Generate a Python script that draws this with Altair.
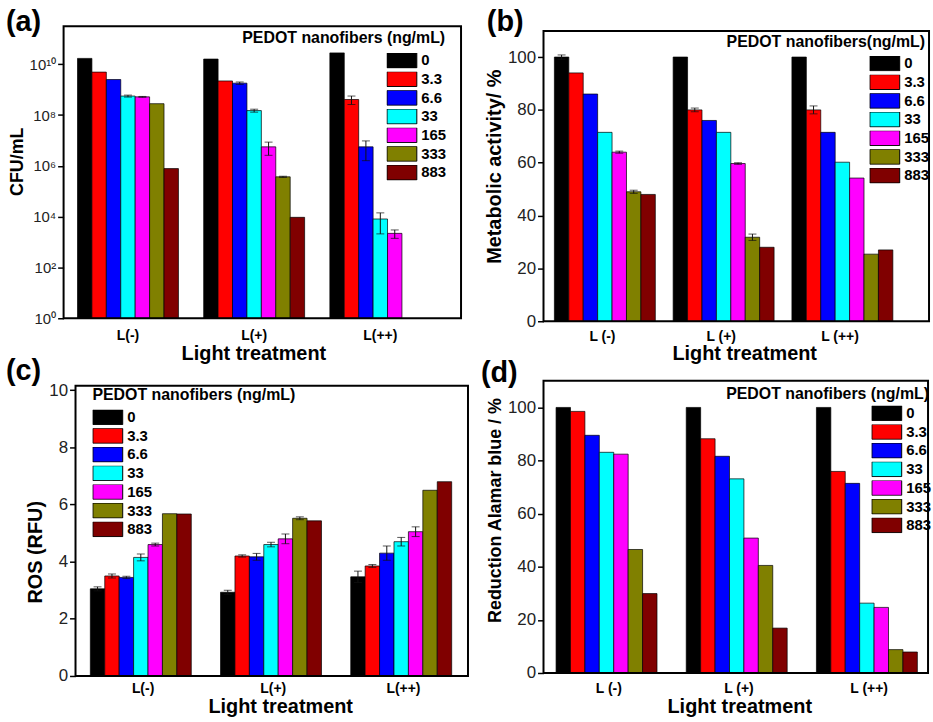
import altair as alt
import pandas as pd

FONT = "Liberation Sans"

CONC = ["0", "3.3", "6.6", "33", "165", "333", "883"]
COLORS = ["#000000", "#FF0000", "#0000FF", "#00FFFF", "#FF00FF", "#808000", "#800000"]

GROUPS_A = ["L(-)", "L(+)", "L(++)"]
GROUPS_B = ["L (-)", "L (+)", "L (++)"]

# (a) CFU/mL
cfu_lminus = [1.7e10, 4.9e9, 2.5e9, 5.6e8, 5.2e8, 2.8e8, 7.8e5]
cfu_lplus = [1.6e10, 2.2e9, 1.8e9, 1.5e8, 5.6e6, 3.7e5, 9.4e3]
cfu_lplusplus = [2.8e10, 4.1e8, 5.6e6, 8.1e3, 2.2e3, None, None]
cfu_err_lminus = [0, 0, 0, 5e7, 2e7, 0, 0]
cfu_err_lplus = [0, 0, 2e8, 2e7, 3e6, 2e4, 0]
cfu_err_lplusplus = [0, 1.5e8, 4e6, 6e3, 8e2, 0, 0]
cfu_ticks = [1, 1e2, 1e4, 1e6, 1e8, 1e10]
cfu_tick_labels = ["10⁰", "10²", "10⁴", "10⁶", "10⁸", "10¹⁰"]

# (b) Metabolic activity / %
met_lminus = [100, 94, 86, 71.5, 64, 49, 48]
met_lplus = [100, 80, 76, 71.5, 59.7, 31.8, 28]
met_lplusplus = [100, 80, 71.5, 60.2, 54.2, 25.4, 27]
met_err_lminus = [0.8, 0, 0, 0, 0.4, 0.6, 0]
met_err_lplus = [0, 0.7, 0, 0, 0.3, 1.2, 0]
met_err_lplusplus = [0, 1.5, 0, 0, 0, 0, 0]

# (c) ROS (RFU)
ros_lminus = [3.05, 3.5, 3.45, 4.15, 4.6, 5.68, 5.67]
ros_lplus = [2.93, 4.2, 4.17, 4.6, 4.8, 5.52, 5.43]
ros_lplusplus = [3.47, 3.85, 4.3, 4.7, 5.05, 6.5, 6.8]
ros_err_lminus = [0.07, 0.07, 0.04, 0.12, 0.05, 0, 0]
ros_err_lplus = [0.07, 0.04, 0.12, 0.08, 0.17, 0.05, 0]
ros_err_lplusplus = [0.2, 0.05, 0.25, 0.15, 0.17, 0, 0]

# (d) Reduction Alamar blue / %
ala_lminus = [100, 98.5, 89.5, 83.1, 82.4, 46.5, 29.9]
ala_lplus = [100, 88.2, 81.6, 73.1, 50.8, 40.5, 16.9]
ala_lplusplus = [100, 75.9, 71.4, 26.3, 24.7, 8.8, 7.9]
ala_err = [0, 0, 0, 0, 0, 0, 0]

LEGEND_TITLE = "PEDOT nanofibers (ng/mL)"
LEGEND_TITLE_B = "PEDOT nanofibers(ng/mL)"
X_TITLE = "Light treatment"


def make_panel(groups, series, errors, *, base, width, height, frame, yscale, yvalues,
               ytitle, ytitle_size, ylabel_size, ytitle_y, yaxis_offset, xtitle_x, xlabel_pad,
               xscale, label, label_pos, ltitle, ltitle_pos, ltitle_align, legend_pos,
               label_expr=None):
    rows = []
    for g, vals, errs in zip(groups, series, errors):
        for c, v, e in zip(CONC, vals, errs):
            if v is None:
                continue
            rows.append({"group": g, "conc": c, "value": v, "base": base,
                         "lo": v - e, "hi": v + e, "err": e})
    df = pd.DataFrame(rows)
    err_df = df[df["err"] > 0]

    x = alt.X("group:N", sort=groups, scale=alt.Scale(**xscale),
              axis=alt.Axis(title=X_TITLE, labelAngle=0, ticks=False, domain=False,
                            labelFont=FONT, labelFontSize=14, labelFontWeight="bold",
                            labelColor="black", labelPadding=xlabel_pad, titleFont=FONT,
                            titleFontSize=20, titleFontWeight="bold", titleColor="black",
                            titlePadding=1, titleX=xtitle_x))
    ykw = dict(values=yvalues, tickSize=6, tickWidth=1.5, tickColor="black", domain=False,
               grid=False, labelFont=FONT, labelFontSize=ylabel_size, labelColor="#222222",
               labelPadding=2, titleFont=FONT, titleFontSize=ytitle_size, titleFontWeight="bold",
               titleColor="black", titlePadding=3, titleY=ytitle_y, offset=yaxis_offset)
    if label_expr is not None:
        ykw["labelExpr"] = label_expr
    yaxis = alt.Axis(**ykw)

    xo = alt.XOffset("conc:N", sort=CONC, scale=alt.Scale(paddingInner=0, paddingOuter=0))
    color = alt.Color("conc:N", sort=CONC, title=None,
                      scale=alt.Scale(domain=CONC, range=COLORS),
                      legend=alt.Legend(orient="none", legendX=legend_pos[0], legendY=legend_pos[1],
                                        symbolType="M-1,-0.5H1V0.5H-1Z", symbolSize=900,
                                        symbolStrokeColor="black", symbolStrokeWidth=1,
                                        symbolOpacity=1, labelFont=FONT, labelFontSize=15,
                                        labelFontWeight="bold", labelColor="black",
                                        labelOffset=4, rowPadding=2.8, clipHeight=15, padding=0))

    bars = alt.Chart(df).mark_bar(stroke="black", strokeWidth=0.7, opacity=1).encode(
        x=x, xOffset=xo,
        y=alt.Y("value:Q", title=ytitle, scale=yscale, axis=yaxis),
        y2="base:Q",
        color=color,
    )
    rule = alt.Chart(err_df).mark_rule(color="#111111", strokeWidth=1).encode(
        x=x, xOffset=xo,
        y=alt.Y("lo:Q", title=ytitle, scale=yscale, axis=yaxis), y2="hi:Q",
    )
    cap_hi = alt.Chart(err_df).mark_tick(color="#111111", thickness=1, size=8, orient="horizontal").encode(
        x=x, xOffset=xo, y=alt.Y("hi:Q", title=ytitle, scale=yscale, axis=yaxis),
    )
    cap_lo = alt.Chart(err_df).mark_tick(color="#111111", thickness=1, size=8, orient="horizontal").encode(
        x=x, xOffset=xo, y=alt.Y("lo:Q", title=ytitle, scale=yscale, axis=yaxis),
    )
    box = alt.Chart(pd.DataFrame({"t": [""]})).mark_rect(
        fillOpacity=0, stroke="black", strokeWidth=2
    ).encode(x=alt.value(frame[0]), x2=alt.value(frame[2]),
             y=alt.value(frame[1]), y2=alt.value(frame[3]))
    lab = alt.Chart(pd.DataFrame({"t": [label]})).mark_text(
        font=FONT, fontSize=29, fontWeight="bold", align="left", baseline="middle", color="black"
    ).encode(text="t:N", x=alt.value(label_pos[0]), y=alt.value(label_pos[1]))
    lt = alt.Chart(pd.DataFrame({"t": [ltitle]})).mark_text(
        font=FONT, fontSize=16, fontWeight="bold", align=ltitle_align, baseline="middle", color="black"
    ).encode(text="t:N", x=alt.value(ltitle_pos[0]), y=alt.value(ltitle_pos[1]))

    return alt.layer(bars, rule, cap_hi, cap_lo, box, lab, lt).properties(width=width, height=height)


expr_a = " : ".join(f"datum.value == {float(v)} ? '{l}'" for v, l in zip(cfu_ticks, cfu_tick_labels)) + " : ''"

# panel (a): origin (63, 24)
panel_a = make_panel(
    GROUPS_A, [cfu_lminus, cfu_lplus, cfu_lplusplus],
    [cfu_err_lminus, cfu_err_lplus, cfu_err_lplusplus], base=1,
    width=400, height=294, frame=(0, 0, 400, 294),
    yscale=alt.Scale(type="log", domain=[1, 10 ** 11.5], nice=False),
    yvalues=cfu_ticks, label_expr=expr_a, ytitle="CFU/mL", ytitle_size=18, ylabel_size=15,
    ytitle_y=136, yaxis_offset=0, xtitle_x=191, xlabel_pad=10,
    xscale=dict(paddingInner=0.2, paddingOuter=0.175, align=0.315),
    label="(a)", label_pos=(-58, -4), ltitle=LEGEND_TITLE, ltitle_pos=(384, 12),
    ltitle_align="right", legend_pos=(325, 27),
)

# panel (b): origin (544, 24), frame starts 5 px lower
panel_b = make_panel(
    GROUPS_B, [met_lminus, met_lplus, met_lplusplus],
    [met_err_lminus, met_err_lplus, met_err_lplusplus], base=0,
    width=388, height=297, frame=(0, 5, 388, 297),
    yscale=alt.Scale(domain=[0, 111.7], nice=False),
    yvalues=[0, 20, 40, 60, 80, 100], ytitle="Metabolic activity/ %", ytitle_size=20,
    ylabel_size=17, ytitle_y=141, yaxis_offset=0, xtitle_x=202, xlabel_pad=8,
    xscale=dict(paddingInner=0.19, paddingOuter=0.218, align=0.21),
    label="(b)", label_pos=(-57, -4), ltitle=LEGEND_TITLE_B, ltitle_pos=(384, 16),
    ltitle_align="right", legend_pos=(328, 30),
)

# panel (c): origin (63, 378), frame starts 12 px right and 5 px lower
panel_c = make_panel(
    GROUPS_A, [ros_lminus, ros_lplus, ros_lplusplus],
    [ros_err_lminus, ros_err_lplus, ros_err_lplusplus], base=0,
    width=407, height=297, frame=(12, 5, 407, 297),
    yscale=alt.Scale(domain=[0, 10.33], nice=False),
    yvalues=[0, 2, 4, 6, 8, 10], ytitle="ROS (RFU)", ytitle_size=20, ylabel_size=17,
    ytitle_y=172, yaxis_offset=-12, xtitle_x=218, xlabel_pad=6,
    xscale=dict(paddingInner=0.19, paddingOuter=0.148, align=0.694),
    label="(c)", label_pos=(-58, -10), ltitle=LEGEND_TITLE, ltitle_pos=(29, 14),
    ltitle_align="left", legend_pos=(29, 29),
)

# panel (d): origin (544, 378)
panel_d = make_panel(
    GROUPS_B, [ala_lminus, ala_lplus, ala_lplusplus],
    [ala_err, ala_err, ala_err], base=0,
    width=387, height=294, frame=(0, 0, 387, 294),
    yscale=alt.Scale(domain=[0, 110], nice=False),
    yvalues=[0, 20, 40, 60, 80, 100], ytitle="Reduction Alamar blue / %", ytitle_size=18,
    ylabel_size=17, ytitle_y=130, yaxis_offset=0, xtitle_x=197, xlabel_pad=9,
    xscale=dict(paddingInner=0.19, paddingOuter=0.072, align=0.67),
    label="(d)", label_pos=(-63, -8), ltitle=LEGEND_TITLE, ltitle_pos=(388, 13),
    ltitle_align="right", legend_pos=(330, 25),
)

chart = (
    alt.concat(panel_a, panel_b, panel_c, panel_d, columns=2,
               spacing=alt.RowColnumber(row=-9, column=10))
    .resolve_scale(color="independent")
    .resolve_legend(color="independent")
    .properties(padding={"left": 5, "top": 5, "right": 0, "bottom": 0})
    .configure(background="white")
    .configure_view(stroke="transparent")
)

chart.save("out.html", embed_options={"renderer": "svg", "actions": False})
